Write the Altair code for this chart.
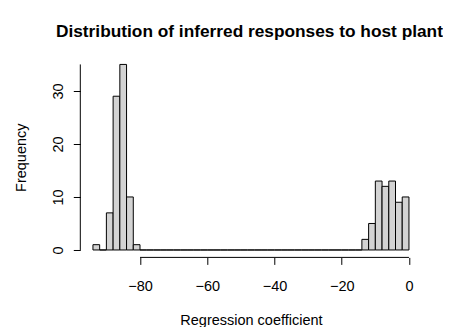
import altair as alt
import pandas as pd

# Histogram bins (width 2) and counts
bin_starts = list(range(-94, 0, 2))
counts = [1, 0, 7, 29, 35, 10, 1] + [0] * 33 + [2, 5, 13, 12, 13, 9, 10]
x_ticks = [-80, -60, -40, -20, 0]
y_ticks = [0, 5, 10, 15, 20, 25, 30, 35]
y_hidden = [15, 25, 35]

title_text = "Distribution of inferred responses to host plant"
x_title = "Regression coefficient"
y_title = "Frequency"

df = pd.DataFrame({
    "start": bin_starts,
    "end": [s + 2 for s in bin_starts],
    "count": counts,
    "zero": [0] * len(bin_starts),
})

# R-style axis extents: data range extended by 4 %
xmin_d, xmax_d = min(bin_starts), max(bin_starts) + 2
xpad = (xmax_d - xmin_d) * 0.04
x_dom = [xmin_d - xpad, xmax_d + xpad]
ypad = (max(y_ticks) - 0) * 0.04
y_dom = [0 - ypad, max(y_ticks) + ypad]

FONT = "Liberation Sans"
W, H = 341.3, 200.4

xs = alt.Scale(domain=x_dom, nice=False, zero=False)
ys = alt.Scale(domain=y_dom, nice=False, zero=False)

hidden_expr = " || ".join(f"datum.value == {v}" for v in y_hidden)

bars = alt.Chart(df).mark_rect(
    fill="#D3D3D3", stroke="#000000", strokeWidth=1
).encode(
    x=alt.X("start:Q", scale=xs, axis=alt.Axis(
        values=x_ticks, domain=False, grid=False, ticks=True, tickSize=7,
        tickColor="#000000", tickWidth=1, labelColor="#000000",
        labelFont=FONT, labelFontSize=14.5, labelBaseline="alphabetic",
        labelPadding=26, labelFlush=False, labelOverlap=False,
        title=x_title, titleFont=FONT, titleFontSize=14.5,
        titleFontWeight="normal", titleColor="#000000",
        titleBaseline="alphabetic", titleY=67.6, titleX=W / 2,
        titleAlign="center",
    )),
    x2="end:Q",
    y=alt.Y("count:Q", scale=ys, axis=alt.Axis(
        values=y_ticks, domain=False, grid=False, ticks=True, tickSize=7,
        tickColor="#000000", tickWidth=1, labelColor="#000000",
        labelFont=FONT, labelFontSize=14.5, labelAngle=-90,
        labelAlign="center", labelBaseline="alphabetic", labelPadding=11,
        labelFlush=False, labelOverlap=False,
        labelExpr=f"({hidden_expr}) ? '' : datum.label",
        title=y_title, titleFont=FONT, titleFontSize=14.5,
        titleFontWeight="normal", titleColor="#000000", titleAngle=-90,
        titleBaseline="alphabetic", titleAlign="center",
        titleX=-54.8, titleY=H / 2,
    )),
    y2="zero:Q",
)

xaxis_df = pd.DataFrame({"lo": [min(x_ticks)], "hi": [max(x_ticks)], "y": [y_dom[0]]})
yaxis_df = pd.DataFrame({"lo": [min(y_ticks)], "hi": [max(y_ticks)], "x": [x_dom[0]]})

xline = alt.Chart(xaxis_df).mark_rule(color="#000000", strokeWidth=1).encode(
    x=alt.X("lo:Q", scale=xs), x2="hi:Q", y=alt.Y("y:Q", scale=ys)
)
yline = alt.Chart(yaxis_df).mark_rule(color="#000000", strokeWidth=1).encode(
    y=alt.Y("lo:Q", scale=ys), y2="hi:Q", x=alt.X("x:Q", scale=xs)
)

chart = alt.layer(bars, xline, yline).properties(
    width=W, height=H,
    background="white",
    title=alt.TitleParams(
        title_text, font=FONT, fontSize=17.3, fontWeight="bold",
        color="#000000", anchor="middle", frame="group",
        baseline="alphabetic", offset=3, dx=-1.5,
    ),
    autosize=alt.AutoSizeParams(type="none"),
    padding={"left": 72.3, "top": 49, "right": 21, "bottom": 69.6},
).configure_view(strokeWidth=0, stroke="transparent")

chart.save("out.html", embed_options={"renderer": "svg", "actions": False})
